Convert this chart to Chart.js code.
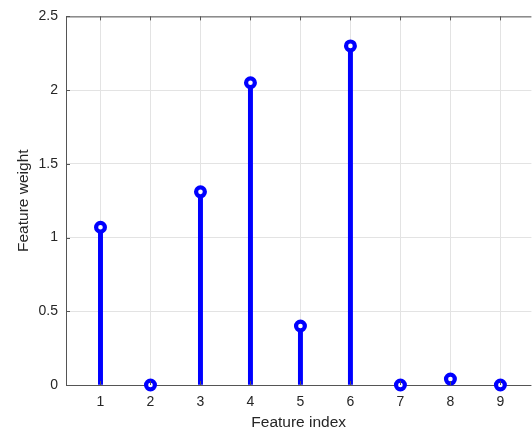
<!DOCTYPE html>
<html>
<head>
<meta charset="utf-8">
<script src="https://cdn.jsdelivr.net/npm/chart.js@4"></script>
<style>
  html, body { margin: 0; padding: 0; background: #fff; overflow: hidden; }
  #wrap { width: 540px; height: 430px; }
</style>
</head>
<body>
<div id="wrap"><canvas id="stem" width="540" height="430"></canvas></div>
<script>
// Stem plot data
const featureIndex = [1, 2, 3, 4, 5, 6, 7, 8, 9];
const featureWeight = [1.07, 0, 1.31, 2.05, 0.40, 2.30, 0, 0.04, 0];
const yTicks = [0, 0.5, 1, 1.5, 2, 2.5];

const points = featureIndex.map((x, i) => ({ x: x, y: featureWeight[i] }));

const axisColor = '#555555';
const textColor = '#262626';
const gridColor = '#e3e3e3';
const font = 'Liberation Sans, Arial, sans-serif';

// draws the box on top/left and the small inward tick marks
const boxPlugin = {
    id: 'box',
    afterDraw(chart) {
        const { ctx, chartArea: a, scales } = chart;
        ctx.save();
        ctx.strokeStyle = axisColor;
        ctx.lineWidth = 1;
        ctx.beginPath();
        ctx.moveTo(a.left + 0.5, a.top + 0.5);
        ctx.lineTo(a.right, a.top + 0.5);
        ctx.moveTo(a.left + 0.5, a.top);
        ctx.lineTo(a.left + 0.5, a.bottom);
        featureIndex.forEach(v => {
            const px = Math.round(scales.x.getPixelForValue(v)) + 0.5;
            ctx.moveTo(px, a.top);
            ctx.lineTo(px, a.top + 4);
            ctx.moveTo(px, a.bottom);
            ctx.lineTo(px, a.bottom - 4);
        });
        yTicks.forEach(v => {
            const py = Math.round(scales.y.getPixelForValue(v)) + 0.5;
            ctx.moveTo(a.left, py);
            ctx.lineTo(a.left + 4, py);
        });
        ctx.stroke();
        ctx.restore();
    }
};

// baseline sits under the stems
const baselinePlugin = {
    id: 'baseline',
    beforeDatasetsDraw(chart) {
        const { ctx, chartArea: a } = chart;
        ctx.save();
        ctx.strokeStyle = axisColor;
        ctx.lineWidth = 1;
        ctx.beginPath();
        ctx.moveTo(a.left, a.bottom + 0.5);
        ctx.lineTo(a.right, a.bottom + 0.5);
        ctx.stroke();
        ctx.restore();
    }
};

new Chart(document.getElementById('stem'), {
    data: {
        datasets: [
            {
                type: 'bar',
                data: points,
                backgroundColor: '#0000ff',
                borderWidth: 0,
                barThickness: 4.3,
                order: 1
            },
            {
                type: 'scatter',
                data: points,
                pointStyle: 'circle',
                pointRadius: 4.4,
                pointBorderWidth: 4.2,
                borderColor: '#0000ff',
                backgroundColor: '#ffffff',
                clip: false,
                order: 0
            }
        ]
    },
    options: {
        responsive: false,
        animation: false,
        layout: { padding: { top: 14, right: 7, left: 0, bottom: 0 } },
        plugins: {
            legend: { display: false },
            tooltip: { enabled: false }
        },
        scales: {
            x: {
                type: 'linear',
                offset: false,
                min: 0.31,
                max: 9.62,
                afterBuildTicks: (scale) => {
                    scale.ticks = featureIndex.map(v => ({ value: v }));
                },
                afterFit: (scale) => { scale.height = 45; },
                grid: { color: gridColor, drawTicks: false, offset: false },
                border: { display: false },
                ticks: {
                    padding: 9,
                    color: textColor,
                    font: { family: font, size: 14 },
                    maxRotation: 0
                },
                title: {
                    display: true,
                    text: 'Feature index',
                    color: textColor,
                    font: { family: font, size: 15.5 },
                    padding: { top: 0, bottom: -2 }
                }
            },
            y: {
                min: 0,
                max: 2.5,
                afterBuildTicks: (scale) => {
                    scale.ticks = yTicks.map(v => ({ value: v }));
                },
                afterFit: (scale) => { scale.width = 66; },
                grid: { color: gridColor, drawTicks: false },
                border: { display: false },
                ticks: {
                    padding: 8,
                    color: textColor,
                    font: { family: font, size: 14 },
                    callback: (v) => String(v)
                },
                title: {
                    display: true,
                    text: 'Feature weight',
                    color: textColor,
                    font: { family: font, size: 15.5 },
                    padding: { top: 14, bottom: 0 }
                }
            }
        }
    },
    plugins: [baselinePlugin, boxPlugin]
});
</script>
</body>
</html>
